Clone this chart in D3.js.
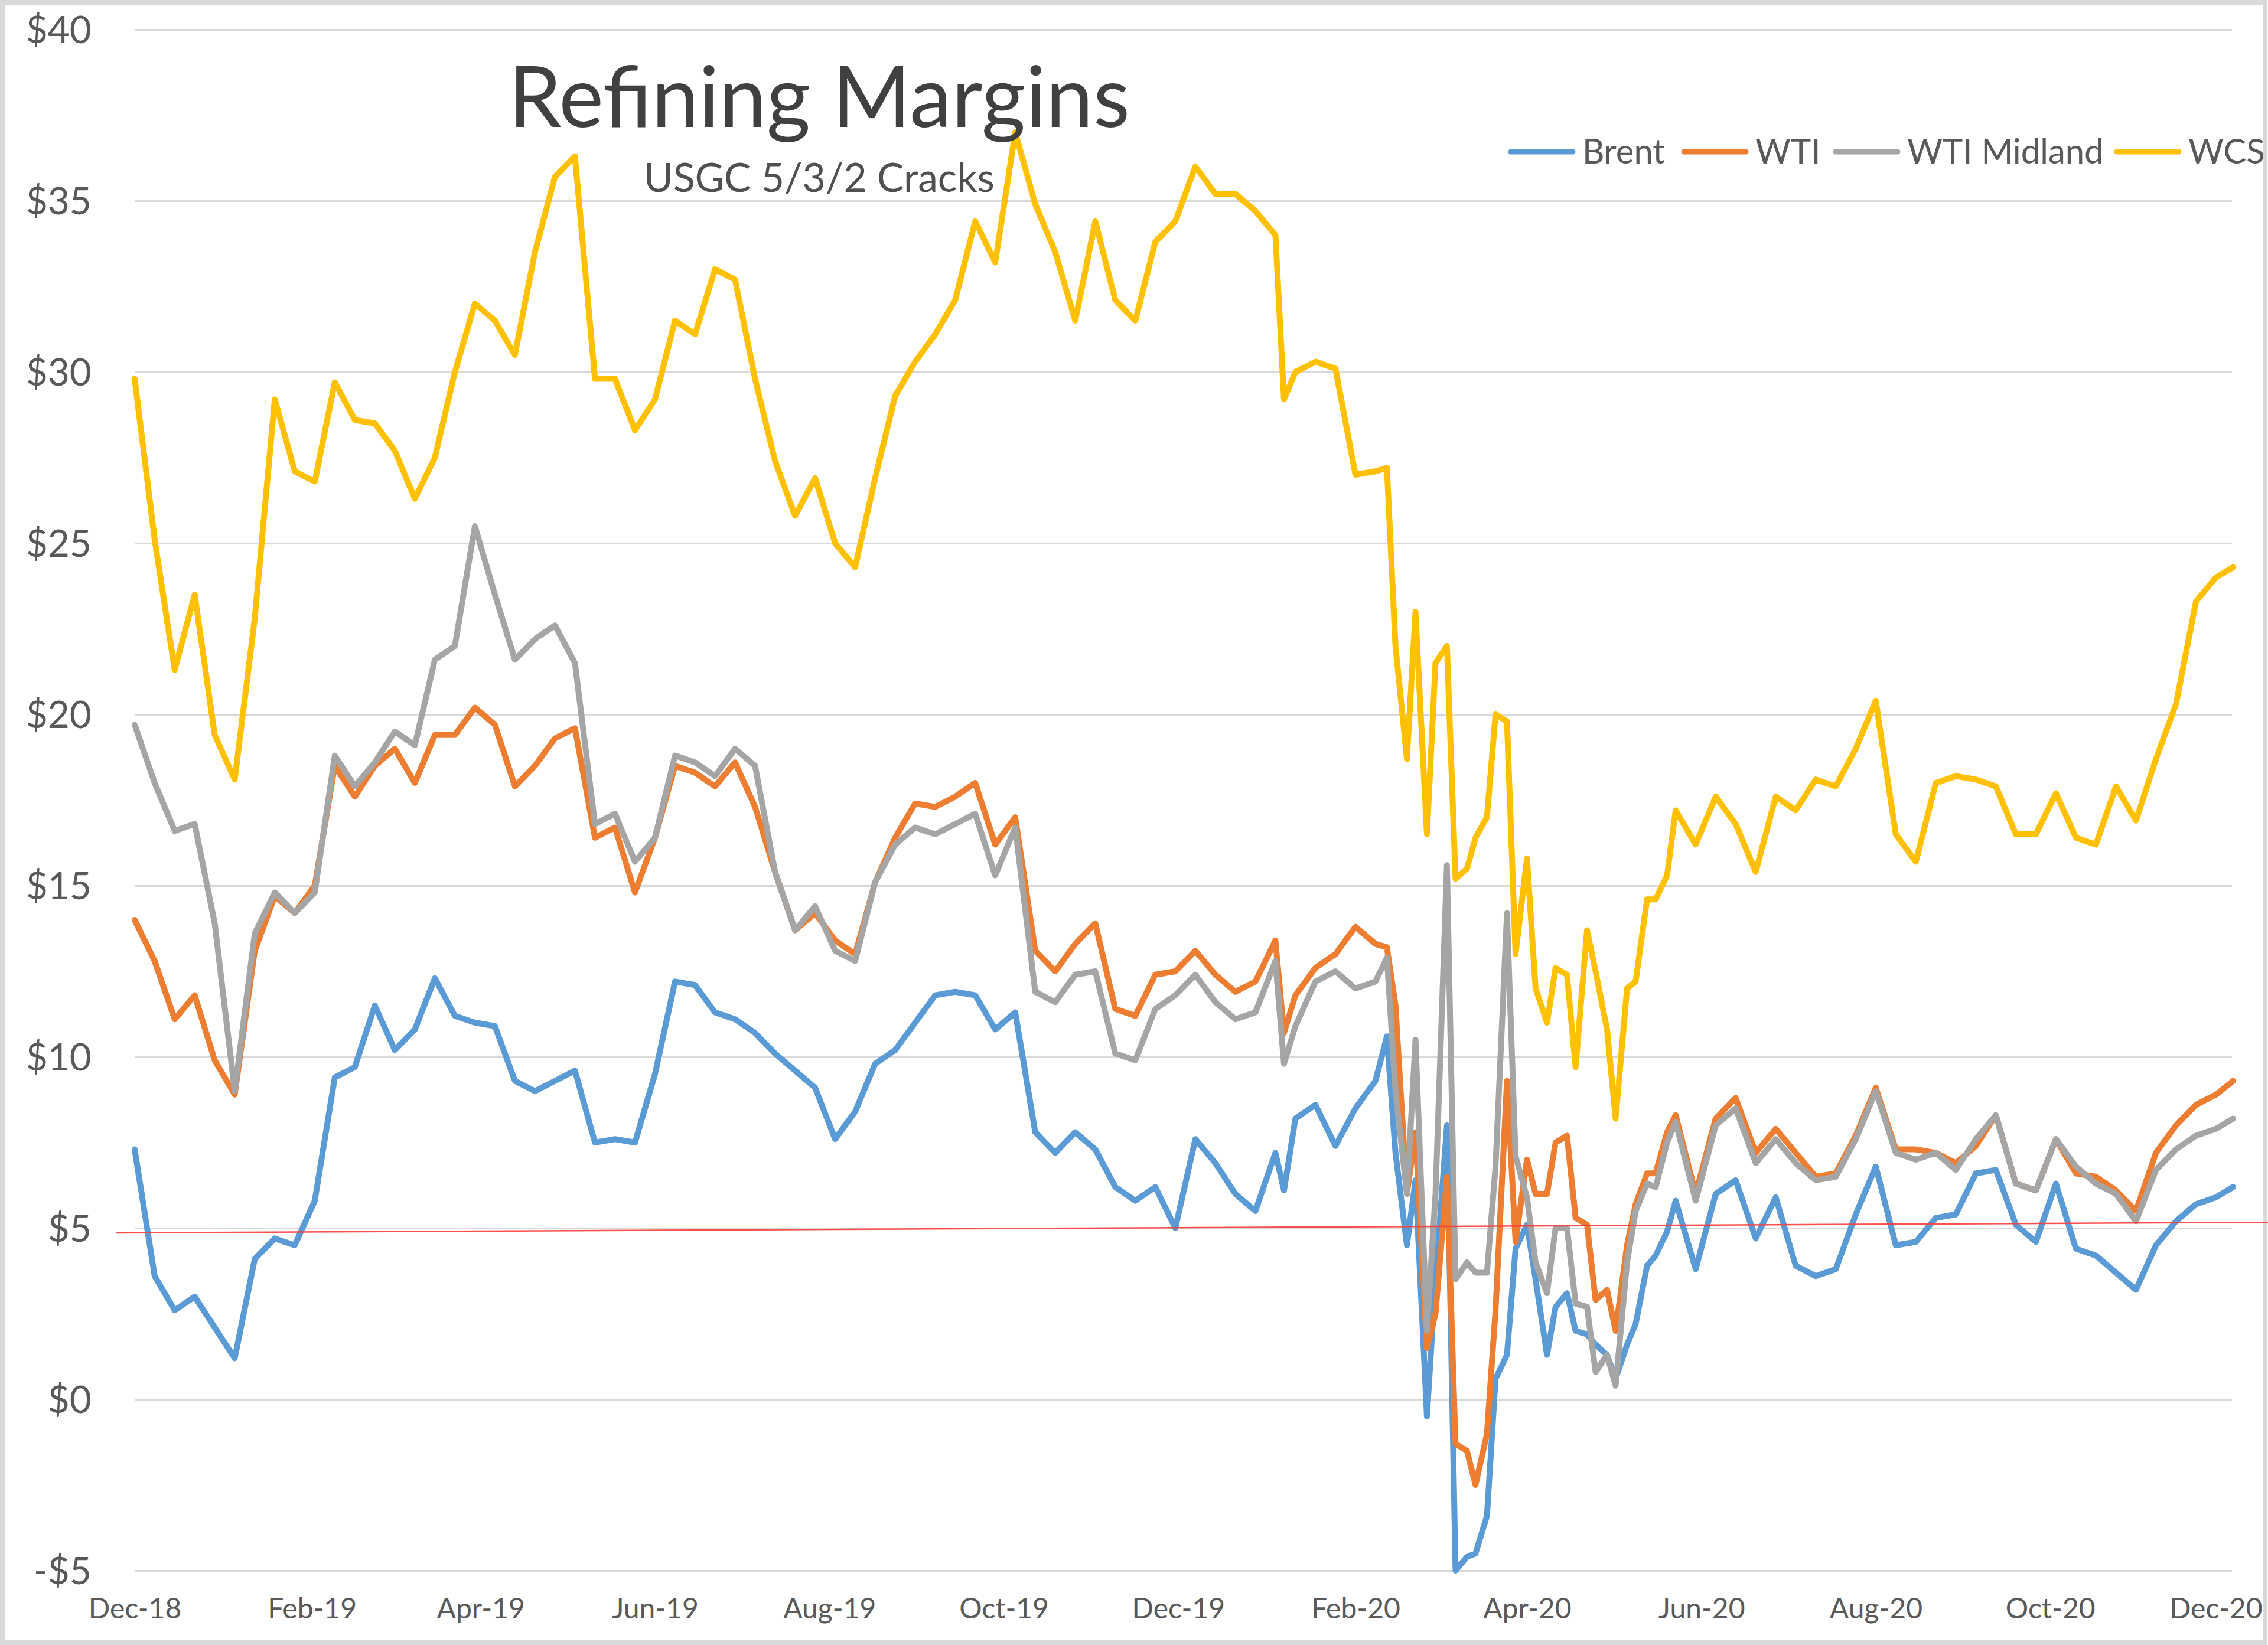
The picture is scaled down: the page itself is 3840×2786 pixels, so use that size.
<!DOCTYPE html>
<html>
<head>
<meta charset="utf-8">
<script src="https://cdn.jsdelivr.net/npm/d3@7"></script>
<style>
  html, body { margin: 0; padding: 0; background: #ffffff; }
  svg { display: block; }
</style>
</head>
<body>
<svg id="chart" width="3840" height="2786"></svg>
<script>
// ---------------- DATA ----------------
const dates = [
  "2018-12-01","2018-12-08","2018-12-15","2018-12-22","2018-12-29","2019-01-05","2019-01-12","2019-01-19","2019-01-26","2019-02-02",
  "2019-02-09","2019-02-16","2019-02-23","2019-03-02","2019-03-09","2019-03-16","2019-03-23","2019-03-30","2019-04-06","2019-04-13",
  "2019-04-20","2019-04-27","2019-05-04","2019-05-11","2019-05-18","2019-05-25","2019-06-01","2019-06-08","2019-06-15","2019-06-22",
  "2019-06-29","2019-07-06","2019-07-13","2019-07-20","2019-07-27","2019-08-03","2019-08-10","2019-08-17","2019-08-24","2019-08-31",
  "2019-09-07","2019-09-14","2019-09-21","2019-09-28","2019-10-05","2019-10-12","2019-10-19","2019-10-26","2019-11-02","2019-11-09",
  "2019-11-16","2019-11-23","2019-11-30","2019-12-07","2019-12-14","2019-12-21","2019-12-28","2020-01-04",
  "2020-01-07",
  "2020-01-11","2020-01-18","2020-01-25","2020-02-01","2020-02-08",
  "2020-02-12",
  "2020-02-15","2020-02-19","2020-02-22","2020-02-26","2020-02-29","2020-03-04","2020-03-07","2020-03-11","2020-03-14","2020-03-18",
  "2020-03-21","2020-03-25","2020-03-28","2020-04-01","2020-04-04","2020-04-08","2020-04-11","2020-04-15","2020-04-18","2020-04-22",
  "2020-04-25","2020-04-29","2020-05-02","2020-05-06","2020-05-09","2020-05-13","2020-05-16","2020-05-20","2020-05-23",
  "2020-05-30","2020-06-06","2020-06-13","2020-06-20","2020-06-27","2020-07-04","2020-07-11","2020-07-18","2020-07-25","2020-08-01",
  "2020-08-08","2020-08-15","2020-08-22","2020-08-29","2020-09-05","2020-09-12","2020-09-19","2020-09-26","2020-10-03","2020-10-10",
  "2020-10-17","2020-10-24","2020-10-31","2020-11-07","2020-11-14","2020-11-21","2020-11-28",
  "2020-12-04"
];

const brent = [
  7.3, 3.6, 2.6, 3.0, 2.1, 1.2, 4.1, 4.7, 4.5, 5.8,
  9.4, 9.7, 11.5, 10.2, 10.8, 12.3, 11.2, 11.0, 10.9, 9.3,
  9.0, 9.3, 9.6, 7.5, 7.6, 7.5, 9.5, 12.2, 12.1, 11.3,
  11.1, 10.7, 10.1, 9.6, 9.1, 7.6, 8.4, 9.8, 10.2, 11.0,
  11.8, 11.9, 11.8, 10.8, 11.3, 7.8, 7.2, 7.8, 7.3, 6.2,
  5.8, 6.2, 5.0, 7.6, 6.9, 6.0, 5.5, 7.2,
  6.1,
  8.2, 8.6, 7.4, 8.5, 9.3,
  10.6,
  7.2, 4.5, 6.4, -0.5, 3.5, 8.0, -5.0, -4.6, -4.5, -3.4,
  0.6, 1.3, 4.4, 5.1, 3.5, 1.3, 2.7, 3.1, 2.0, 1.9,
  1.6, 1.3, 0.6, 1.6, 2.2, 3.9, 4.2, 4.9, 5.8,
  3.8, 6.0, 6.4, 4.7, 5.9, 3.9, 3.6, 3.8, 5.4, 6.8,
  4.5, 4.6, 5.3, 5.4, 6.6, 6.7, 5.1, 4.6, 6.3, 4.4,
  4.2, 3.7, 3.2, 4.5, 5.2, 5.7, 5.9,
  6.2
];

const wti = [
  14.0, 12.8, 11.1, 11.8, 9.9, 8.9, 13.1, 14.7, 14.2, 15.0,
  18.5, 17.6, 18.5, 19.0, 18.0, 19.4, 19.4, 20.2, 19.7, 17.9,
  18.5, 19.3, 19.6, 16.4, 16.7, 14.8, 16.4, 18.5, 18.3, 17.9,
  18.6, 17.3, 15.4, 13.7, 14.2, 13.4, 13.0, 15.1, 16.4, 17.4,
  17.3, 17.6, 18.0, 16.2, 17.0, 13.1, 12.5, 13.3, 13.9, 11.4,
  11.2, 12.4, 12.5, 13.1, 12.4, 11.9, 12.2, 13.4,
  10.7,
  11.8, 12.6, 13.0, 13.8, 13.3,
  13.2,
  11.5, 6.0, 7.8, 1.5, 2.5, 6.5, -1.3, -1.5, -2.5, -1.0,
  2.6, 9.3, 4.6, 7.0, 6.0, 6.0, 7.5, 7.7, 5.3, 5.1,
  2.9, 3.2, 2.0, 4.5, 5.7, 6.6, 6.6, 7.8, 8.3,
  6.0, 8.2, 8.8, 7.2, 7.9, 7.2, 6.5, 6.6, 7.7, 9.1,
  7.3, 7.3, 7.2, 6.9, 7.4, 8.3, 6.3, 6.1, 7.6, 6.6,
  6.5, 6.1, 5.5, 7.2, 8.0, 8.6, 8.9,
  9.3
];

const midland = [
  19.7, 18.0, 16.6, 16.8, 13.9, 9.0, 13.6, 14.8, 14.2, 14.8,
  18.8, 17.9, 18.6, 19.5, 19.1, 21.6, 22.0, 25.5, 23.5, 21.6,
  22.2, 22.6, 21.5, 16.8, 17.1, 15.7, 16.4, 18.8, 18.6, 18.2,
  19.0, 18.5, 15.4, 13.7, 14.4, 13.1, 12.8, 15.1, 16.2, 16.7,
  16.5, 16.8, 17.1, 15.3, 16.7, 11.9, 11.6, 12.4, 12.5, 10.1,
  9.9, 11.4, 11.8, 12.4, 11.6, 11.1, 11.3, 12.8,
  9.8,
  10.9, 12.2, 12.5, 12.0, 12.2,
  12.9,
  9.0, 6.0, 10.5, 2.0, 6.0, 15.6, 3.5, 4.0, 3.7, 3.7,
  6.8, 14.2, 7.1, 5.9, 4.0, 3.1, 5.0, 5.0, 2.8, 2.7,
  0.8, 1.3, 0.4, 4.0, 5.5, 6.3, 6.2, 7.5, 8.1,
  5.8, 8.0, 8.5, 6.9, 7.6, 6.9, 6.4, 6.5, 7.6, 9.0,
  7.2, 7.0, 7.2, 6.7, 7.6, 8.3, 6.3, 6.1, 7.6, 6.8,
  6.3, 6.0, 5.2, 6.7, 7.3, 7.7, 7.9,
  8.2
];

const wcs = [
  29.8, 25.1, 21.3, 23.5, 19.4, 18.1, 22.8, 29.2, 27.1, 26.8,
  29.7, 28.6, 28.5, 27.7, 26.3, 27.5, 30.0, 32.0, 31.5, 30.5,
  33.5, 35.7, 36.3, 29.8, 29.8, 28.3, 29.2, 31.5, 31.1, 33.0,
  32.7, 29.8, 27.4, 25.8, 26.9, 25.0, 24.3, 26.9, 29.3, 30.3,
  31.1, 32.1, 34.4, 33.2, 37.0, 34.9, 33.5, 31.5, 34.4, 32.1,
  31.5, 33.8, 34.4, 36.0, 35.2, 35.2, 34.7, 34.0,
  29.2,
  30.0, 30.3, 30.1, 27.0, 27.1,
  27.2,
  22.0, 18.7, 23.0, 16.5, 21.5, 22.0, 15.2, 15.5, 16.4, 17.0,
  20.0, 19.8, 13.0, 15.8, 12.0, 11.0, 12.6, 12.4, 9.7, 13.7,
  12.5, 10.8, 8.2, 12.0, 12.2, 14.6, 14.6, 15.3, 17.2,
  16.2, 17.6, 16.8, 15.4, 17.6, 17.2, 18.1, 17.9, 19.0, 20.4,
  16.5, 15.7, 18.0, 18.2, 18.1, 17.9, 16.5, 16.5, 17.7, 16.4,
  16.2, 17.9, 16.9, 18.7, 20.3, 23.3, 24.0,
  24.3
];

const seriesNames = ["Brent", "WTI", "WTI Midland", "WCS"];
const yTicks = [-5, 0, 5, 10, 15, 20, 25, 30, 35, 40];
const xTickDates = ["2018-12-01","2019-02-01","2019-04-01","2019-06-01","2019-08-01","2019-10-01",
                    "2019-12-01","2020-02-01","2020-04-01","2020-06-01","2020-08-01","2020-10-01","2020-12-01"];
const titleText = "Refining Margins";
const subtitleText = "USGC 5/3/2 Cracks";
const refLineValues = [4.86, 5.17];   // hand-drawn red reference line, value at left / right end

// ---------------- LAYOUT / STYLE ----------------
const W = 3840, H = 2786;
const plotLeft = 228, plotRight = 3779, dataRight = 3781, plotTop = 50, plotBottom = 2660;
const colors = ["#5B9BD5", "#ED7D31", "#A5A5A5", "#FFC000"];
const font = "Lato, 'Open Sans', 'Noto Sans', sans-serif";
const textColor = "#595959";

const parse = d3.timeParse("%Y-%m-%d");
const x = d3.scaleTime()
  .domain([parse("2018-12-01"), parse("2020-12-04")])
  .range([plotLeft, dataRight]);
const y = d3.scaleLinear().domain([-5, 40]).range([plotBottom, plotTop]);

const svg = d3.select("#chart");
svg.append("rect").attr("width", W).attr("height", H).attr("fill", "#ffffff");
svg.append("rect")
  .attr("x", 4).attr("y", 4).attr("width", W - 9).attr("height", H - 8)
  .attr("fill", "none").attr("stroke", "#d9d9d9").attr("stroke-width", 8);

// Y axis with gridlines
const yAxis = d3.axisLeft(y)
  .tickValues(yTicks)
  .tickSize(-(plotRight - plotLeft))
  .tickPadding(plotLeft - 155)
  .tickFormat(v => (v < 0 ? "-$" + Math.abs(v) : "$" + v));
const yg = svg.append("g").attr("transform", `translate(${plotLeft},0)`).call(yAxis);
yg.select(".domain").remove();
yg.selectAll(".tick line").attr("stroke", "#d9d9d9").attr("stroke-width", 3);
yg.selectAll(".tick text")
  .attr("font-family", font).attr("font-size", 64).attr("fill", textColor)
  .attr("dy", "0.35em");

// X axis
const xAxis = d3.axisBottom(x)
  .tickValues(xTickDates.map(parse))
  .tickSize(0)
  .tickPadding(47)
  .tickFormat(d3.timeFormat("%b-%y"));
const xg = svg.append("g").attr("transform", `translate(0,${plotBottom})`).call(xAxis);
xg.select(".domain").remove();
xg.selectAll(".tick text")
  .attr("font-family", font).attr("font-size", 48).attr("fill", textColor);
// keep the last label inside the picture
const lastTick = xg.selectAll(".tick").filter((d, i, n) => i === n.length - 1);
const lastX = x(parse(xTickDates[xTickDates.length - 1]));
lastTick.select("text").attr("text-anchor", "end").attr("x", (W - 10) - lastX);

// Series lines
const allSeries = [brent, wti, midland, wcs];
const line = d3.line()
  .x(d => x(d.date))
  .y(d => y(d.v));
allSeries.forEach((vals, si) => {
  const pts = vals.map((v, i) => ({ date: parse(dates[i]), v: v }));
  svg.append("path")
    .datum(pts)
    .attr("d", line)
    .attr("fill", "none")
    .attr("stroke", colors[si])
    .attr("stroke-width", 10)
    .attr("stroke-linejoin", "round")
    .attr("stroke-linecap", "round");
});

// Red reference line (drawn shape spanning from left of plot to right edge)
svg.append("line")
  .attr("x1", 197).attr("x2", W)
  .attr("y1", y(refLineValues[0])).attr("y2", y(refLineValues[1]))
  .attr("stroke", "#FF3B3B").attr("stroke-width", 2.5).attr("opacity", 0.9);

// Title & subtitle
function fitWidth(sel, target) {
  const w = sel.node().getComputedTextLength();
  const fs = parseFloat(sel.attr("font-size"));
  if (w > 0) sel.attr("font-size", fs * target / w);
}
const title = svg.append("text")
  .attr("x", 1387).attr("y", 215)
  .attr("text-anchor", "middle")
  .attr("font-family", font).attr("font-weight", 400)
  .attr("font-size", 140).attr("fill", "#404040")
  .text(titleText);
fitWidth(title, 1052);
const subtitle = svg.append("text")
  .attr("x", 1387).attr("y", 325)
  .attr("text-anchor", "middle")
  .attr("font-family", font)
  .attr("font-size", 64).attr("fill", "#505050")
  .text(subtitleText);
fitWidth(subtitle, 594);

// Legend
const legendX = [2553, 2846, 3103, 3579];
const legend = svg.append("g");
seriesNames.forEach((name, i) => {
  legend.append("line")
    .attr("x1", legendX[i] + 5).attr("x2", legendX[i] + 110)
    .attr("y1", 257).attr("y2", 257)
    .attr("stroke", colors[i]).attr("stroke-width", 9)
    .attr("stroke-linecap", "round");
  legend.append("text")
    .attr("x", legendX[i] + 126).attr("y", 277)
    .attr("font-family", font).attr("font-size", 58).attr("fill", textColor)
    .text(name);
});
</script>
</body>
</html>
